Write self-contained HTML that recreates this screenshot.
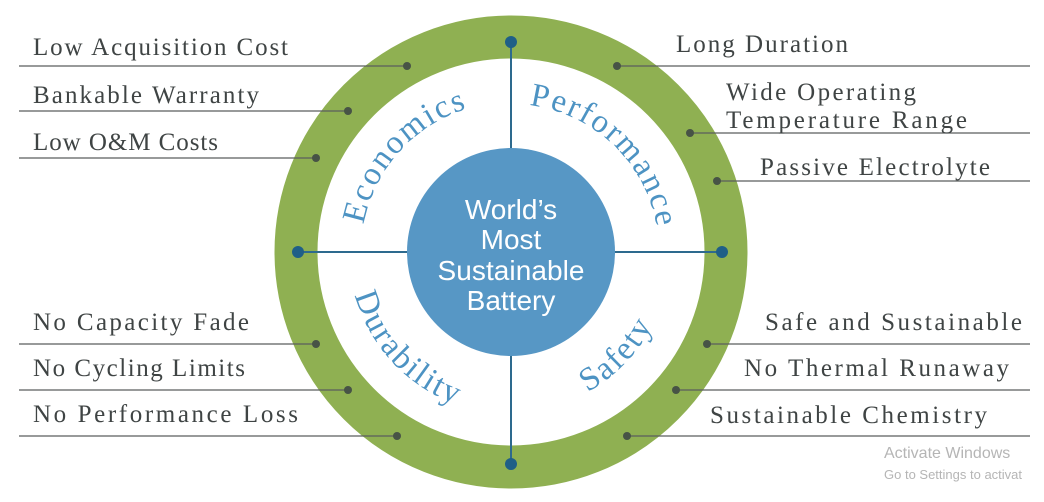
<!DOCTYPE html>
<html><head><meta charset="utf-8"><style>
html,body{margin:0;padding:0;background:#fff;}
svg{display:block}
.l{font-family:"Liberation Serif",serif;font-size:25px;fill:#3f4444;}
.c{font-family:"Liberation Serif",serif;font-size:33px;fill:#4d93c3;letter-spacing:2px;}
.w{font-family:"Liberation Sans",sans-serif;font-size:28px;fill:#fff;}
</style></head><body>
<svg width="1044" height="502" viewBox="0 0 1044 502" xmlns="http://www.w3.org/2000/svg">
<defs>
<path id="pE" d="M 372.9 310.6 A 150 150 0 0 1 554.9 108.6" fill="none"/>
<path id="pP" d="M 458 113.8 A 148 148 0 0 1 650.9 300.2" fill="none"/>
<path id="pD" d="M 356.1 204.6 A 162 162 0 0 0 547.4 409.8" fill="none"/>
<path id="pS" d="M 460 404 A 160 160 0 0 0 660 196" fill="none"/>
</defs>
<circle cx="511" cy="252" r="215" fill="none" stroke="#8fb052" stroke-width="43"/>
<line x1="511" y1="42" x2="511" y2="462" stroke="#2d6a8e" stroke-width="2"/>
<line x1="298" y1="252" x2="722" y2="252" stroke="#2d6a8e" stroke-width="2"/>
<circle cx="511" cy="252" r="104" fill="#5797c5"/>
<g fill="#1f5f87">
<circle cx="511" cy="42" r="6"/><circle cx="511" cy="464" r="6"/>
<circle cx="298" cy="252" r="6"/><circle cx="722" cy="252" r="6"/>
</g>
<g stroke="#5a5e5e" stroke-width="1.3">
<line x1="19" y1="66" x2="407" y2="66"/><line x1="19" y1="111" x2="348" y2="111"/><line x1="19" y1="158" x2="316" y2="158"/>
<line x1="19" y1="344" x2="316" y2="344"/><line x1="19" y1="390" x2="348" y2="390"/><line x1="19" y1="436" x2="397" y2="436"/>
<line x1="617" y1="66" x2="1030" y2="66"/><line x1="690" y1="133" x2="1030" y2="133"/><line x1="717" y1="181" x2="1030" y2="181"/>
<line x1="707" y1="344" x2="1030" y2="344"/><line x1="676" y1="390" x2="1030" y2="390"/><line x1="627" y1="436" x2="1030" y2="436"/>
</g>
<g fill="#475346">
<circle cx="407" cy="66" r="4"/><circle cx="348" cy="111" r="4"/><circle cx="316" cy="158" r="4"/>
<circle cx="316" cy="344" r="4"/><circle cx="348" cy="390" r="4"/><circle cx="397" cy="436" r="4"/>
<circle cx="617" cy="66" r="4"/><circle cx="690" cy="133" r="4"/><circle cx="717" cy="181" r="4"/>
<circle cx="707" cy="344" r="4"/><circle cx="676" cy="390" r="4"/><circle cx="627" cy="436" r="4"/>
</g>
<g class="l">
<text x="33" y="55" textLength="255">Low Acquisition Cost</text>
<text x="33" y="103" textLength="226">Bankable Warranty</text>
<text x="33" y="150" textLength="185">Low O&amp;M Costs</text>
<text x="33" y="330" textLength="216">No Capacity Fade</text>
<text x="33" y="376" textLength="212">No Cycling Limits</text>
<text x="33" y="422" textLength="265">No Performance Loss</text>
<text x="676" y="52" textLength="172">Long Duration</text>
<text x="726" y="100" textLength="190">Wide Operating</text>
<text x="726" y="128" textLength="241">Temperature Range</text>
<text x="760" y="175" textLength="230">Passive Electrolyte</text>
<text x="765" y="330" textLength="257">Safe and Sustainable</text>
<text x="744" y="376" textLength="265">No Thermal Runaway</text>
<text x="710" y="423" textLength="277">Sustainable Chemistry</text>
</g>
<text class="c"><textPath href="#pE" startOffset="50%" text-anchor="middle">Economics</textPath></text>
<text class="c"><textPath href="#pP" startOffset="50%" text-anchor="middle">Performance</textPath></text>
<text class="c"><textPath href="#pD" startOffset="50%" text-anchor="middle">Durability</textPath></text>
<text class="c"><textPath href="#pS" startOffset="50%" text-anchor="middle">Safety</textPath></text>
<g class="w" text-anchor="middle">
<text x="511" y="219">World’s</text>
<text x="511" y="249">Most</text>
<text x="511" y="280" textLength="147">Sustainable</text>
<text x="511" y="310">Battery</text>
</g>
<text x="884" y="458" font-family="Liberation Sans,sans-serif" font-size="16" fill="#b5b5b5">Activate Windows</text>
<text x="884" y="479" font-family="Liberation Sans,sans-serif" font-size="13" fill="#b5b5b5">Go to Settings to activat</text>
</svg>
</body></html>
